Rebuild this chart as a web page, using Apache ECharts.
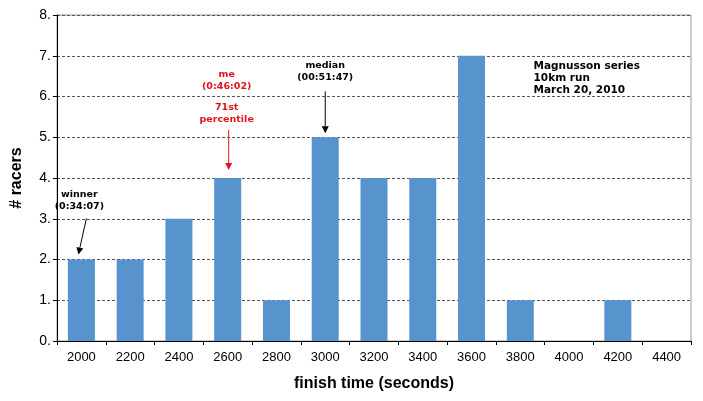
<!DOCTYPE html>
<html><head><meta charset="utf-8">
<script src="https://cdn.jsdelivr.net/npm/echarts@6/dist/echarts.min.js"></script>
<style>html,body{margin:0;padding:0;background:#fff}#c{width:703px;height:401px}</style>
</head><body><div id="c"></div>
<script>
const categories = ['2000','2200','2400','2600','2800','3000','3200','3400','3600','3800','4000','4200','4400'];
const racers = [2,2,3,4,1,5,4,4,7,1,0,1,0];
const yTicks = [0,1,2,3,4,5,6,7,8];

const chart = echarts.init(document.getElementById('c'));
chart.setOption({
  animation:false,
  grid:{left:57,right:12,top:15,bottom:60,show:true,borderColor:'#999',borderWidth:1},
  xAxis:{type:'category',data:categories,boundaryGap:true,
    name:'finish time (seconds)',nameLocation:'middle',nameGap:35,
    nameTextStyle:{fontFamily:'Liberation Sans, Arial',fontWeight:'bold',fontSize:16,color:'#000'},
    axisLine:{lineStyle:{color:'#000',width:1}},
    axisTick:{show:true,length:4,lineStyle:{color:'#000'},alignWithLabel:false},
    axisLabel:{fontFamily:'Liberation Sans, Arial',fontSize:13,color:'#000',margin:10}},
  yAxis:{type:'value',min:0,max:8,interval:1,
    name:'# racers',nameLocation:'middle',nameGap:32,nameRotate:90,
    nameTextStyle:{fontFamily:'Liberation Sans, Arial',fontWeight:'bold',fontSize:16,color:'#000'},
    axisLine:{show:true,lineStyle:{color:'#000',width:1}},
    axisTick:{show:true,length:4,lineStyle:{color:'#000'}},
    axisLabel:{fontFamily:'Liberation Sans, Arial',fontSize:14,color:'#000',margin:6,
      formatter:v=>v+'.'},
    splitLine:{show:true,lineStyle:{color:'#555',type:[3,2],width:1}}},
  series:[{type:'bar',data:racers,barWidth:27,itemStyle:{color:'#5793cd'}}]
});

function px(i,v){return chart.convertToPixel({xAxisIndex:0,yAxisIndex:0},[i,v]);}
const annFont = 'bold 9.5px "DejaVu Sans", Verdana';
const noteFont = 'bold 10.5px "DejaVu Sans", Verdana';
function txt(x,y,s,color,align,font){return {type:'text',style:{x:x,y:y,text:s,font:font||annFont,fill:color,textAlign:align||'center',textVerticalAlign:'middle'}};}
function arrow(x1,y1,x2,y2,color){
  const dx=x2-x1, dy=y2-y1, L=Math.hypot(dx,dy), ux=dx/L, uy=dy/L;
  const hl=7, hw=3.5;
  const bx=x2-ux*hl, by=y2-uy*hl;
  return [
    {type:'line',shape:{x1:x1,y1:y1,x2:bx,y2:by},style:{stroke:color,lineWidth:1}},
    {type:'polygon',shape:{points:[[x2,y2],[bx-uy*hw,by+ux*hw],[bx+uy*hw,by-ux*hw]]},style:{fill:color}}
  ];
}
const w = px(0,2), m = px(3,4), md = px(5,5), top8 = px(8,7);
const red = '#e3121b';
let g = [];
g.push(txt(w[0]-2, w[1]-65, 'winner','#000'));
g.push(txt(w[0]-2, w[1]-53, '(0:34:07)','#000'));
g = g.concat(arrow(w[0]+5, w[1]-41, w[0]-3, w[1]-5,'#000'));
g.push(txt(m[0]-1, m[1]-103, 'me',red));
g.push(txt(m[0]-1, m[1]-91, '(0:46:02)',red));
g.push(txt(m[0]-1, m[1]-70, '71st',red));
g.push(txt(m[0]-1, m[1]-58, 'percentile',red));
g = g.concat(arrow(m[0]+1, m[1]-48, m[0]+1, m[1]-8, red));
g.push(txt(md[0], md[1]-72, 'median','#000'));
g.push(txt(md[0], md[1]-60, '(00:51:47)','#000'));
g = g.concat(arrow(md[0], md[1]-46, md[0], md[1]-4,'#000'));
g.push(txt(top8[0]+62, top8[1]+11, 'Magnusson series','#000','left',noteFont));
g.push(txt(top8[0]+62, top8[1]+23, '10km run','#000','left',noteFont));
g.push(txt(top8[0]+62, top8[1]+35, 'March 20, 2010','#000','left',noteFont));
chart.setOption({graphic:g});
</script></body></html>
